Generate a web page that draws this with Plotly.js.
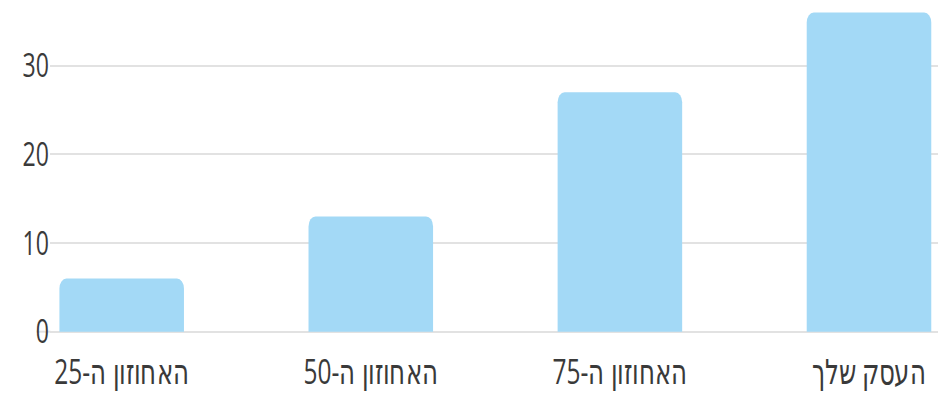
<!DOCTYPE html>
<html>
<head>
<meta charset="utf-8">
<script src="https://cdn.plot.ly/plotly-3.0.1.min.js"></script>
<style>
  @font-face {
    font-family: 'HebWide';
    src: local('DejaVu Sans'), local('DejaVuSans');
    unicode-range: U+0590-05FF;
  }
  html, body { margin: 0; padding: 0; overflow: hidden; background: #fff; }
  #wrap { width: 938px; height: 393px; overflow: hidden; }
  #chart { width: 1340px; height: 393px; transform: scaleX(0.7); transform-origin: 0 0; }
</style>
</head>
<body>
<div id="wrap"><div id="chart"></div></div>
<script>
const categories = ['האחוזון ה-25', 'האחוזון ה-50', 'האחוזון ה-75', 'העסק שלך'];
const values = [6, 13, 27, 36];
const yTickValues = [0, 10, 20, 30];
const yTickLabels = ['0', '10', '20', '30'];

const barColor = '#a3d9f6';
const gridColor = '#e2e2e2';
const textColor = '#3a3a3a';
const fontFamily = '"Open Sans", "DejaVu Sans", sans-serif';
const xFontFamily = 'HebWide, "Open Sans", "DejaVu Sans", sans-serif';

const trace = {
  type: 'bar',
  x: categories,
  y: values,
  marker: { color: barColor, cornerradius: 10 },
  hoverinfo: 'none'
};

const layout = {
  width: 1340,
  height: 393,
  margin: { l: 71, r: 0, t: 0, b: 59 },
  paper_bgcolor: '#fff',
  plot_bgcolor: '#fff',
  showlegend: false,
  bargap: 0.5,
  font: { family: fontFamily, color: textColor },
  xaxis: {
    type: 'category',
    range: [-0.289, 3.277],
    showgrid: false,
    zeroline: false,
    showline: false,
    ticks: '',
    ticklabelstandoff: 14,
    tickfont: { size: 35, color: textColor, family: xFontFamily },
    fixedrange: true
  },
  yaxis: {
    range: [-0.26, 37.41],
    tickvals: yTickValues,
    ticktext: yTickLabels,
    showgrid: true,
    gridcolor: gridColor,
    gridwidth: 2,
    zeroline: false,
    showline: false,
    ticks: '',
    ticklabelstandoff: 0,
    tickfont: { size: 33, color: textColor, family: fontFamily },
    fixedrange: true
  },
  shapes: [{
    type: 'line',
    xref: 'paper', yref: 'y',
    x0: -0.0147, x1: 0.001, y0: 0, y1: 0,
    line: { color: gridColor, width: 2 },
    layer: 'below'
  }]
};

document.fonts.load('35px HebWide', 'אה').catch(function () {}).then(function () {
  Plotly.newPlot('chart', [trace], layout, { displayModeBar: false, staticPlot: true });
});
</script>
</body>
</html>
